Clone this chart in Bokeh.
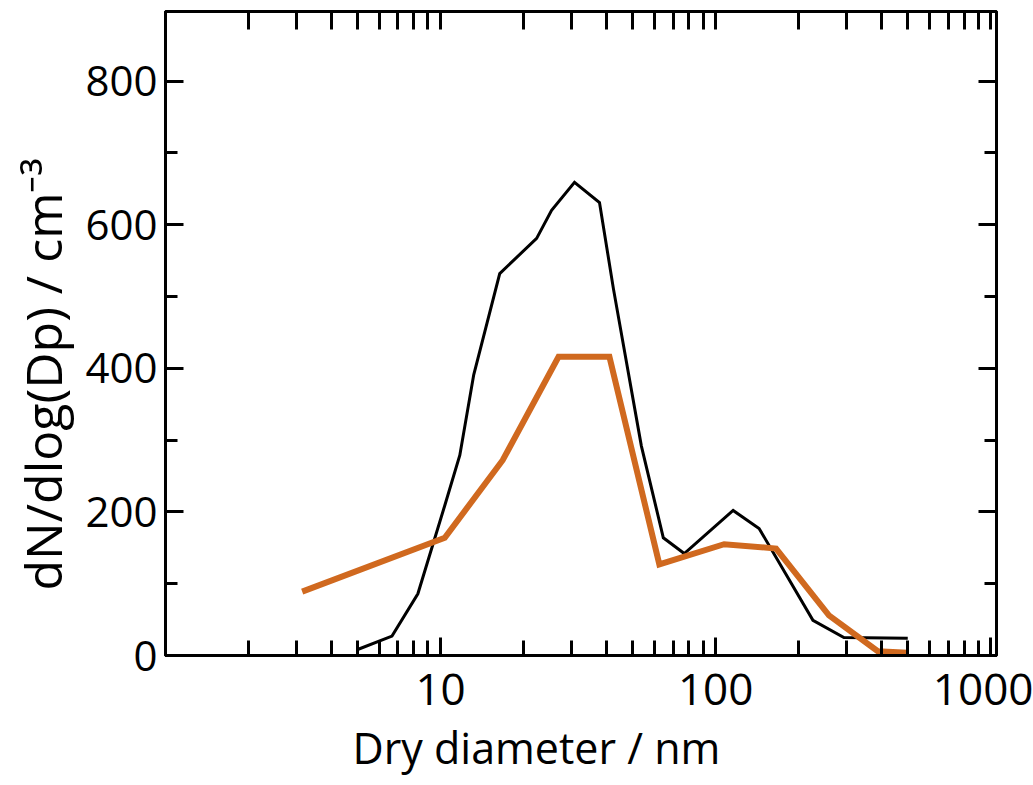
from bokeh.plotting import figure
from bokeh.models import LogAxis, LinearAxis, FixedTicker, SingleIntervalTicker, CustomJSTickFormatter, Range1d, Title
from bokeh.embed import file_html
from bokeh.resources import INLINE

# ---- data ----
black_dp = [4.97, 6.66, 8.27, 10.36, 11.75, 13.2, 16.41, 22.35, 25.33, 30.69, 37.83,
            42.5, 53.7, 64.55, 76.92, 115.8, 143.9, 225.9, 292.7, 499.5]
black_n = [8, 27, 86, 209, 279, 391, 532, 581, 620, 659, 631,
           511, 292, 164, 142, 202, 177, 49, 25, 24]

orange_dp = [3.14, 10.36, 16.82, 26.85, 41.11, 62.43, 107.4, 165.9, 258.2, 388.8, 499.5]
orange_n = [89, 164, 272, 416, 416, 127, 155, 149, 56, 6, 4]

x_major = [10, 100, 1000]
x_minor = [k * 10 ** e for e in range(0, 3) for k in range(1, 10) if k > 1 or e == 0] + [2000]
x_title = "Dry diameter / nm"
y_title = "dN/dlog(Dp) / cm⁻³"

FONT = "Open Sans"

p = figure(width=1033, height=785, x_axis_type="log",
           x_range=Range1d(1, 1050), y_range=Range1d(0, 897),
           output_backend="svg", toolbar_location=None,
           min_border_left=163, min_border_right=37, min_border_top=11, min_border_bottom=130)
p.background_fill_color = "white"
p.border_fill_color = "white"
p.xgrid.visible = False
p.ygrid.visible = False
p.outline_line_color = "black"
p.outline_line_width = 3

xticker = FixedTicker(ticks=x_major, minor_ticks=x_minor)
yticker = SingleIntervalTicker(interval=200, num_minor_ticks=2)


def style(ax, minor_in):
    ax.axis_line_width = 3
    ax.axis_line_color = "black"
    ax.major_tick_in = 18
    ax.major_tick_out = 0
    ax.minor_tick_in = minor_in
    ax.minor_tick_out = 0
    ax.major_tick_line_width = 3
    ax.minor_tick_line_width = 3
    ax.major_tick_line_color = "black"
    ax.minor_tick_line_color = "black"
    ax.major_label_text_font = FONT
    ax.major_label_text_color = "black"


xa = p.xaxis[0]
xa.ticker = xticker
xa.major_label_overrides = {v: str(v) for v in x_major}
style(xa, 15)
xa.major_label_text_font_size = "44px"
xa.major_label_standoff = 18

ya = p.yaxis[0]
ya.ticker = yticker
style(ya, 12)
ya.major_label_text_font_size = "42px"
ya.major_label_standoff = 8

blank = "return ''"
top = LogAxis(ticker=xticker, formatter=CustomJSTickFormatter(code=blank))
style(top, 18)
top.major_label_standoff = 0
top.major_label_text_font_size = "1px"
p.add_layout(top, "above")

right = LinearAxis(ticker=yticker, formatter=CustomJSTickFormatter(code=blank))
style(right, 12)
right.major_label_standoff = 0
right.major_label_text_font_size = "1px"
p.add_layout(right, "right")

xt = Title(text=x_title, align="left", offset=187, standoff=17,
           text_font=FONT, text_font_style="normal", text_font_size="43px", text_color="black")
p.add_layout(xt, "below")

yt = Title(text=y_title, align="left", offset=65, standoff=12,
           text_font=FONT, text_font_style="normal", text_font_size="50px", text_color="black")
p.add_layout(yt, "left")

p.line(black_dp, black_n, line_color="black", line_width=3, line_join="miter")
p.line(orange_dp, orange_n, line_color="#D0691F", line_width=6, line_join="miter")

open("out.html", "w").write(file_html(p, INLINE))
